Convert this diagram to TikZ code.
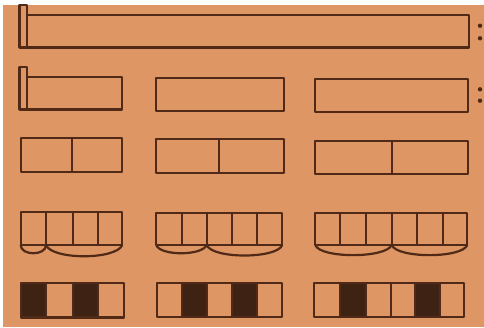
\documentclass[tikz,border=0pt]{standalone}
\begin{document}
\begin{tikzpicture}[x=1pt,y=-1pt,
  ink/.style={draw=inkc,line width=2.2pt,line join=round},
  dark/.style={fill=inkd},
  dot/.style={fill=inkc}]
\definecolor{paper}{RGB}{222,150,100}
\definecolor{inkc}{RGB}{80,42,22}
\definecolor{inkd}{RGB}{62,34,20}
\useasboundingbox (0,0) rectangle (484,327);
\fill[white] (0,0) rectangle (484,327);
\fill[paper] (3,5) rectangle (484,327);
% row 1
\draw[ink] (19.5,5) rectangle (26.7,47.5);
\draw[ink] (26.7,14.7) rectangle (469,47.5);
\fill[dot] (480,25.7) circle (2.2);
\fill[dot] (480,38.3) circle (2.2);
% row 2
\draw[ink] (19.5,67.3) rectangle (26.7,109.5);
\draw[ink] (26.7,76.7) rectangle (122.3,109.5);
\draw[ink] (156,78.3) rectangle (283.7,111);
\draw[ink] (315.3,78.7) rectangle (468.3,111.7);
\fill[dot] (480,89.3) circle (2.2);
\fill[dot] (480,100.7) circle (2.2);
% row 3
\draw[ink] (20.7,138.3) rectangle (122,172.3);
\draw[ink] (71.7,138.3) -- (71.7,172.3);
\draw[ink] (156,139.3) rectangle (283.7,173.3);
\draw[ink] (219.3,139.3) -- (219.3,173.3);
\draw[ink] (315.3,140.7) rectangle (468,174.3);
\draw[ink] (392,140.7) -- (392,174.3);
% row 4
\draw[ink] (20.7,212.3) rectangle (122.3,245);
\foreach \x in {46,72.7,98} \draw[ink] (\x,212.3) -- (\x,245);
\draw[ink] (20.7,245) .. controls (20.7,256) and (46,256) .. (46,245);
\draw[ink] (46,245) .. controls (52,260) and (116,260) .. (122.3,245);
\draw[ink] (156.3,213.3) rectangle (282.3,245);
\foreach \x in {182,206.7,232.3,257.3} \draw[ink] (\x,213.3) -- (\x,245);
\draw[ink] (156.3,245) .. controls (160,256) and (202,256) .. (206.7,245);
\draw[ink] (206.7,245) .. controls (212,259) and (277,259) .. (282.3,245);
\draw[ink] (315.3,213.3) rectangle (467.3,245);
\foreach \x in {340,366,391.7,417.3,442.7} \draw[ink] (\x,213.3) -- (\x,245);
\draw[ink] (315.3,245) .. controls (320,258.5) and (386,258.5) .. (391.7,245);
\draw[ink] (391.7,245) .. controls (397,258.5) and (462,258.5) .. (467.3,245);
% row 5
\fill[dark] (20.7,283.3) rectangle (46,317.5);
\fill[dark] (72.7,283.3) rectangle (98,317.5);
\draw[ink] (20.7,283.3) rectangle (123.7,317.5);
\foreach \x in {46,72.7,98} \draw[ink] (\x,283.3) -- (\x,317.5);
\fill[dark] (182,282.7) rectangle (207.3,316.7);
\fill[dark] (232.3,282.7) rectangle (257.3,316.7);
\draw[ink] (156.7,282.7) rectangle (282.3,316.7);
\foreach \x in {182,207.3,232.3,257.3} \draw[ink] (\x,282.7) -- (\x,316.7);
\fill[dark] (340,283.3) rectangle (365.7,317.3);
\fill[dark] (415,283.3) rectangle (440,317.3);
\draw[ink] (314.3,283.3) rectangle (464.3,317.3);
\foreach \x in {340,365.7,391,415,440} \draw[ink] (\x,283.3) -- (\x,317.3);
\end{tikzpicture}
\end{document}
